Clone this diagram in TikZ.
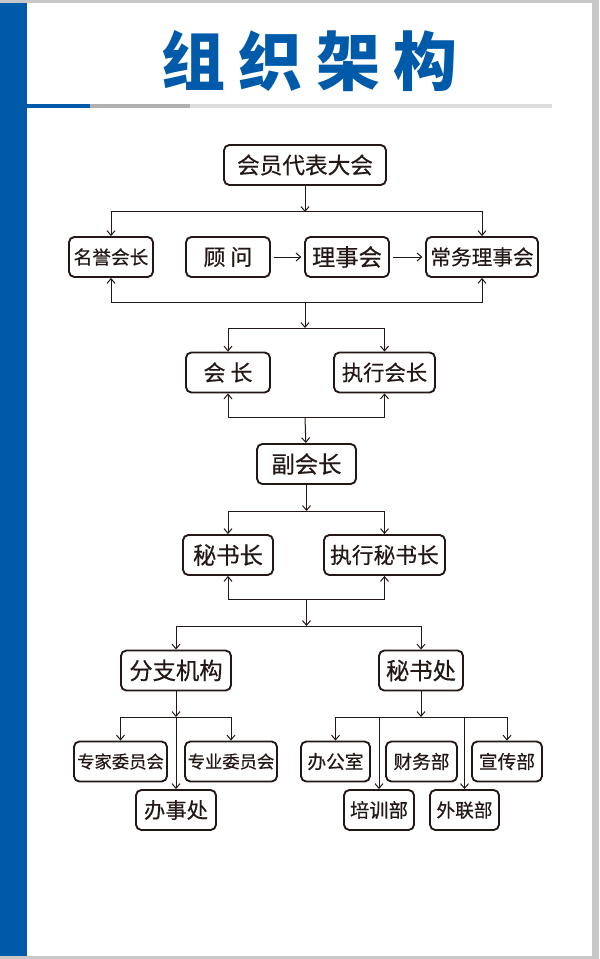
\documentclass[tikz,border=0pt]{standalone}
\usepackage{fontspec}
\newfontfamily\cjk{Noto Sans CJK SC}[FakeBold=0.4]
\newfontfamily\titlecjk{Noto Sans CJK SC}
\usetikzlibrary{arrows.meta}
\definecolor{titleblue}{RGB}{0,90,170}
\definecolor{ink}{RGB}{35,24,21}
\definecolor{frame}{RGB}{200,200,200}
\definecolor{rulegray}{RGB}{176,176,176}
\definecolor{rulelight}{RGB}{220,220,220}

\begin{document}
\begin{tikzpicture}[
        x=0.75pt, y=-0.75pt,
        box/.style={rounded corners=4pt, draw=ink, line width=1.4pt, fill=white, inner sep=0pt, minimum height=30pt, text=ink, font=\cjk\fontsize{#1}{#1}\selectfont},
        box/.default=17,
        wd/.style={minimum width=#1*0.75pt},
        flow/.style={-{Straight Barb[length=3.5pt,width=6pt]}, line width=0.75pt, draw=ink}
    ]
        % page
        \fill[frame] (0,0) rectangle (599,959);
        \fill[white] (0,3) rectangle (592,956);
        \fill[titleblue] (0,3) rectangle (27,956);
        \useasboundingbox (0,0) rectangle (599,959);

        % title
        \node[text=titleblue, font=\titlecjk\bfseries\fontsize{48}{48}\selectfont] (title) at (309.5,61) {组\kern10pt 织\kern10pt 架\kern10pt 构};
        \fill[titleblue] (27,104.5) rectangle (90,108);
        \fill[rulegray] (90,104.5) rectangle (190,108);
        \fill[rulelight] (190,104.5) rectangle (552,108);

        \node[box, wd=162] (congress) at (305,165) {会员代表大会};
        \node[box=14, wd=84] (honor) at (111,257) {名誉会长};
        \node[box=16.5, wd=84] (advisor) at (228,257) {顾 问};
        \node[box=17.5, wd=84] (council) at (347,257) {理事会};
        \node[box=15.5, wd=112] (standing) at (482,257) {常务理事会};
        \node[box=16.5, wd=84] (chair) at (228,372.5) {会 长};
        \node[box=16, wd=101] (execchair) at (384.5,372.5) {执行会长};
        \node[box=17.5, wd=99] (vice) at (306.5,464) {副会长};
        \node[box=17.5, wd=90] (secgen) at (228,555) {秘书长};
        \node[box=16.3, wd=121] (execsec) at (384.5,555) {执行秘书长};
        \node[box=17.5, wd=110] (branch) at (176,670.5) {分支机构};
        \node[box=17.5, wd=84] (secretariat) at (421,670.5) {秘书处};
        \node[box=13, wd=93] (expert) at (120.5,761.5) {专家委员会};
        \node[box=13, wd=92] (special) at (231,761.5) {专业委员会};
        \node[box=16, wd=80] (agency) at (176,810) {办事处};
        \node[box=14, wd=69] (office) at (335.5,761.5) {办公室};
        \node[box=14, wd=71] (finance) at (421.5,761.5) {财务部};
        \node[box=14, wd=70] (publicity) at (507,761.5) {宣传部};
        \node[box=14.5, wd=70] (training) at (379,810) {培训部};
        \node[box=14, wd=69] (liaison) at (464.5,810) {外联部};

        \coordinate (up1) at (305,212);
        \coordinate (dn1) at (305,302);
        \coordinate (up2) at (305,328);
        \coordinate (dn2) at (305,417);
        \coordinate (up3) at (306.5,511);
        \coordinate (dn3) at (306.5,599);
        \coordinate (up4) at (306.5,626);
        \coordinate (br) at (176,717);
        \coordinate (sc) at (421,717);

        \draw[flow] (congress) -- (up1);
        \draw[flow] (up1) -| (honor);
        \draw[flow] (up1) -| (standing);
        \draw[flow, shorten <=2pt, shorten >=2pt] (advisor) -- (council);
        \draw[flow, shorten <=2pt, shorten >=2pt] (council) -- (standing);
        \draw[flow] (dn1) -| (honor);
        \draw[flow] (dn1) -| (standing);
        \draw[flow] (dn1) -- (up2);
        \draw[flow] (up2) -| (chair);
        \draw[flow] (up2) -| (execchair);
        \draw[flow] (dn2) -| (chair);
        \draw[flow] (dn2) -| (execchair);
        \draw[flow] (dn2) -- (vice);
        \draw[flow] (vice) -- (up3);
        \draw[flow] (up3) -| (secgen);
        \draw[flow] (up3) -| (execsec);
        \draw[flow] (dn3) -| (secgen);
        \draw[flow] (dn3) -| (execsec);
        \draw[flow] (dn3) -- (up4);
        \draw[flow] (up4) -| (branch);
        \draw[flow] (up4) -| (secretariat);
        \draw[flow] (branch) -- (br);
        \draw[flow] (br) -| (expert);
        \draw[flow] (br) -| (special);
        \draw[flow] (br) -- (agency);
        \draw[flow] (secretariat) -- (sc);
        \draw[flow] (sc) -| (office);
        \draw[flow] (sc) -| (publicity);
        \draw[flow] (sc) -| (training);
        \draw[flow] (sc) -| (liaison);
    \end{tikzpicture}
\end{document}
